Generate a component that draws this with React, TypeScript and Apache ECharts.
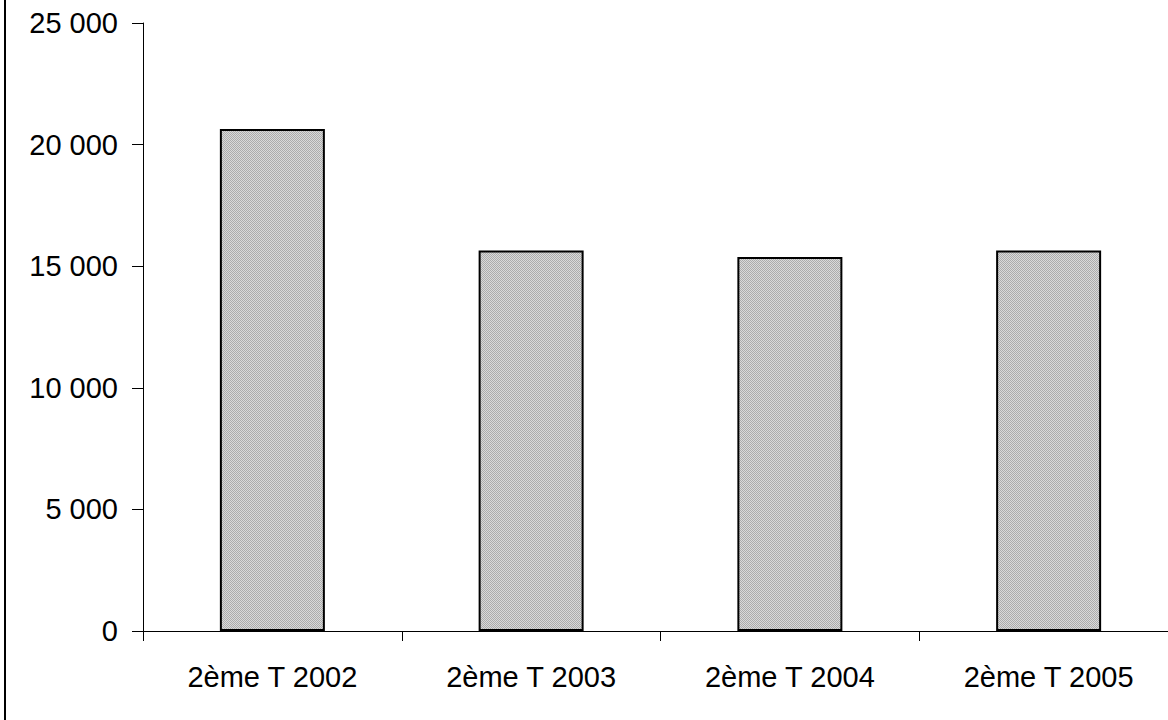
import React, { useEffect, useRef } from "react";
import * as echarts from "echarts";

const categories = ["2ème T 2002", "2ème T 2003", "2ème T 2004", "2ème T 2005"];
const values = [20640, 15650, 15380, 15650];
const yTicks = { min: 0, max: 25000, interval: 5000 };

function makePattern(): HTMLCanvasElement | string {
  try {
    const c = document.createElement("canvas");
    c.width = 2;
    c.height = 2;
    const ctx = c.getContext("2d");
    if (!ctx) return "#c4c4c4";
    ctx.fillStyle = "#dadada";
    ctx.fillRect(0, 0, 2, 2);
    ctx.fillStyle = "#acacac";
    ctx.fillRect(0, 0, 1, 1);
    ctx.fillRect(1, 1, 1, 1);
    return c;
  } catch (e) {
    return "#c4c4c4";
  }
}

const fmt = (v: number) => String(v).replace(/\B(?=(\d{3})+(?!\d))/g, " ");

export default function App() {
  const ref = useRef<HTMLDivElement>(null);
  useEffect(() => {
    if (!ref.current) return;
    const chart = echarts.init(ref.current, null, { renderer: "svg" });
    const pat = makePattern();
    const fill: any = typeof pat === "string" ? pat : { image: pat, repeat: "repeat" };
    chart.setOption({
      animation: false,
      backgroundColor: "#ffffff",
      grid: { left: 143, right: 3, top: 23, bottom: 89, containLabel: false },
      xAxis: {
        type: "category",
        data: categories,
        axisLine: { show: true, lineStyle: { color: "#000", width: 1 } },
        axisTick: { show: true, alignWithLabel: false, length: 10, lineStyle: { color: "#000", width: 1 } },
        axisLabel: {
          margin: 31,
          fontFamily: "Liberation Sans, Arial, sans-serif",
          fontSize: 29,
          color: "#000",
        },
        splitLine: { show: false },
      },
      yAxis: {
        type: "value",
        min: yTicks.min,
        max: yTicks.max,
        interval: yTicks.interval,
        axisLine: { show: true, lineStyle: { color: "#000", width: 1 } },
        axisTick: { show: true, length: 11, lineStyle: { color: "#000", width: 1 } },
        axisLabel: {
          margin: 25,
          fontFamily: "Liberation Sans, Arial, sans-serif",
          fontSize: 29,
          color: "#000",
          formatter: (v: number) => fmt(v),
        },
        splitLine: { show: false },
      },
      series: [
        {
          type: "bar",
          data: values,
          barWidth: 105,
          itemStyle: { color: fill, borderColor: "#000", borderWidth: 2 },
        },
      ],
      graphic: [
        {
          type: "line",
          shape: { x1: 5, y1: 0, x2: 5, y2: 720 },
          style: { stroke: "#000", lineWidth: 2 },
          silent: true,
        },
      ],
    });
    return () => chart.dispose();
  }, []);
  return (
    <div
      style={{ position: "absolute", left: 0, top: 0, width: 1168, height: 720, overflow: "hidden" }}
    >
      <div ref={ref} style={{ position: "absolute", left: 0, top: 0, width: 1181, height: 720 }} />
    </div>
  );
}
